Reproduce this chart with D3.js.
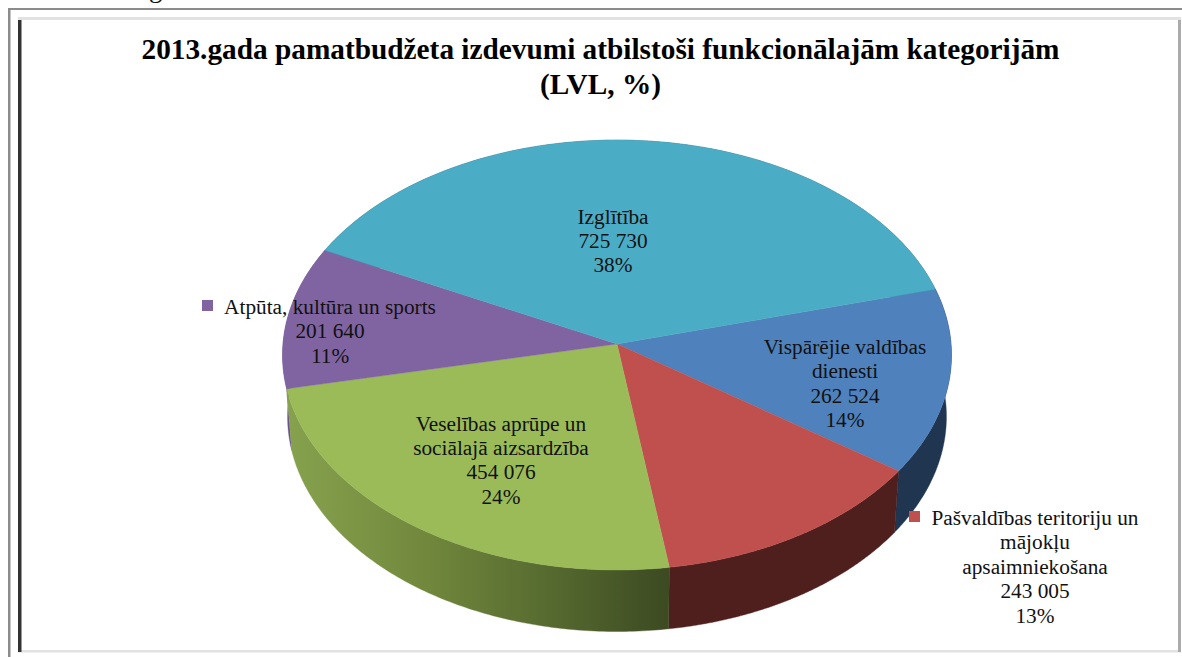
<!DOCTYPE html>
<html><head><meta charset="utf-8">
<script src="https://d3js.org/d3.v7.min.js"></script>
<style>html,body{margin:0;padding:0;background:#fff;overflow:hidden}svg{display:block}text{font-family:"Liberation Serif",serif;fill:#111}</style>
</head><body><svg id="c" width="1182" height="657"></svg>
<script>
const titleLines = ["2013.gada pamatbudžeta izdevumi atbilstoši funkcionālajām kategorijām", "(LVL, %)"];
const categories = ["Vispārējie valdības\ndienesti", "Pašvaldības teritoriju un\nmājokļu\napsaimniekošana", "Veselības aprūpe un\nsociālajā aizsardzība", "Atpūta, kultūra un sports", "Izglītība"];
const values = [262524, 243005, 454076, 201640, 725730];
const topColors = ["#4f81bd", "#c0504d", "#9bbb59", "#8064a2", "#4bacc6"];
const labelCenters = [[845, 339], [1035, 510], [501, 415.5], [330, 299], [613, 208.5]];
const markerColors = [null, "#c0504d", null, "#8064a2", null];
const markerAt = [null, [909, 511], null, [202, 300], null];

const svg = d3.select("#c");
const defs = svg.append("defs");
const g1 = defs.append("linearGradient").attr("id", "greenSide").attr("gradientUnits", "userSpaceOnUse")
  .attr("x1", 287).attr("x2", 668).attr("y1", 0).attr("y2", 0);
[[0, "#86a24e"], [0.35, "#72893d"], [0.7, "#55692f"], [1, "#3d4a22"]].forEach(s => g1.append("stop").attr("offset", s[0]).attr("stop-color", s[1]));
const sideFill = ["#1f3550", "#4f1f1e", "url(#greenSide)", "#6a4f8e", "#2e6a7c"];

// frame
const frame = svg.append("g");
frame.append("rect").attr("x", 8).attr("y", 8).attr("width", 1174).attr("height", 2).attr("fill", "#8c8c8c");
frame.append("rect").attr("x", 8).attr("y", 8).attr("width", 2.5).attr("height", 649).attr("fill", "#8c8c8c");
frame.append("rect").attr("x", 18).attr("y", 17).attr("width", 1163).attr("height", 3).attr("fill", "#e2e2e2");
frame.append("rect").attr("x", 18).attr("y", 650).attr("width", 1163).attr("height", 2.5).attr("fill", "#e2e2e2");
frame.append("rect").attr("x", 1178).attr("y", 20).attr("width", 3).attr("height", 632).attr("fill", "#ababab");
frame.append("rect").attr("x", 18).attr("y", 20).attr("width", 3.5).attr("height", 632).attr("fill", "#333");

svg.append("text").text("g").attr("x", 149).attr("y", -3).attr("font-size", 27);

// pie with a slight perspective
const pie = d3.pie().sort(null).startAngle(75 * Math.PI / 180).endAngle((75 + 360) * Math.PI / 180);
const arcs = pie(values);
const total = d3.sum(values);
const sx = d3.scaleLinear().domain([-1, 1]).range([617 - 334, 617 + 334]);
const sy = d3.scaleLinear().domain([-1, 1]).range([344 - 214.4, 344 + 214.4]);
const persp = 0.0513, depth = 61.5, lowerRing = 0.985;
const project = (a, r, dy, xr = 1) => {
  const u = r * Math.sin(a), v = -r * Math.cos(a), w = 1 - persp * v;
  return [sx(xr * u / w), sy(v / w) + dy];
};
const rim = d => d3.range(0, 121).map(i => d.startAngle + (d.endAngle - d.startAngle) * i / 120);
const line = d3.line();

// sides
const order = [4, 0, 3, 1, 2];
order.forEach(i => {
  const d = arcs[i], as = rim(d);
  const pts = as.map(a => project(a, 1, 0)).concat(as.slice().reverse().map(a => project(a, 1, depth, lowerRing)));
  svg.append("path").attr("d", line(pts) + "Z").attr("fill", sideFill[i]).attr("stroke", sideFill[i]).attr("stroke-width", 0.4);
});
// tops
arcs.forEach((d, i) => {
  const pts = [project(0, 0, 0)].concat(rim(d).map(a => project(a, 1, 0)));
  svg.append("path").attr("d", line(pts) + "Z").attr("fill", topColors[i]).attr("stroke", topColors[i]).attr("stroke-width", 0.4);
});

// title
titleLines.forEach((t, i) => svg.append("text").text(t).attr("x", 600.5).attr("y", 59 + i * 35)
  .attr("text-anchor", "middle").attr("font-size", 29.3).attr("font-weight", "bold").style("fill", "#000"));

// labels
const fmt = d3.formatLocale({decimal: ",", thousands: " ", grouping: [3], currency: ["", ""]}).format(",d");
categories.forEach((c, i) => {
  const lines = c.split("\n").concat([fmt(values[i]), Math.round(values[i] / total * 100) + "%"]);
  const [x, y] = labelCenters[i];
  lines.forEach((l, k) => svg.append("text").text(l).attr("x", x).attr("y", y + 15 + k * 24.4)
    .attr("text-anchor", "middle").attr("font-size", 21.3));
  if (markerAt[i]) svg.append("rect").attr("x", markerAt[i][0]).attr("y", markerAt[i][1]).attr("width", 11).attr("height", 11).attr("fill", markerColors[i]);
});
</script></body></html>
